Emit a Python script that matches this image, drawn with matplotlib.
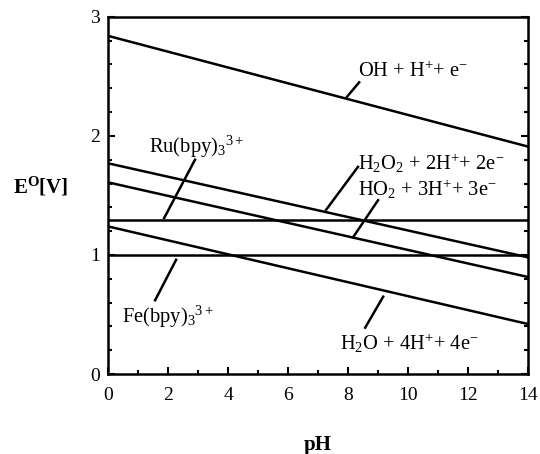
import matplotlib
matplotlib.use("Agg")
import matplotlib.pyplot as plt

plt.rcParams['font.family'] = ['Liberation Serif', 'DejaVu Serif']
plt.rcParams['mathtext.fontset'] = 'custom'
plt.rcParams['mathtext.rm'] = 'Liberation Serif'
plt.rcParams['mathtext.it'] = 'Liberation Serif:italic'
plt.rcParams['mathtext.bf'] = 'Liberation Serif:bold'

# Data: pH range and potentials (V) at pH 0 and pH 14
ph = [0, 14]
oh_couple = [2.84, 1.91]
h2o2_couple = [1.77, 0.98]
ho2_couple = [1.61, 0.815]
ru_bpy = [1.29, 1.29]
h2o_couple = [1.24, 0.42]
fe_bpy = [1.0, 1.0]

series = [oh_couple, h2o2_couple, ho2_couple, ru_bpy, h2o_couple, fe_bpy]

labels = [
    r"OH + H$^{+}$+ e$^{-}$",
    r"H$_2$O$_2$ + 2H$^{+}$+ 2e$^{-}$",
    r"HO$_2$ + 3H$^{+}$+ 3e$^{-}$",
    r"Ru(bpy)$_3$$^{3+}$",
    r"H$_2$O + 4H$^{+}$+ 4e$^{-}$",
    r"Fe(bpy)$_3$$^{3+}$",
]
xticks = [0, 2, 4, 6, 8, 10, 12, 14]
yticks = [0, 1, 2, 3]

fig = plt.figure(figsize=(5.4, 4.54), dpi=100)
ax = fig.add_axes([0.2, 0.176, 0.778, 0.787])

for s in series:
    ax.plot(ph, s, color='black', lw=1.8, solid_capstyle='butt')

# label text positions (text left, centre) and leader lines (start, end)
label_layout = [
    ((8.33, 2.54), (7.97, 2.33), (8.37, 2.45)),
    ((8.33, 1.77), (8.33, 1.74), (7.27, 1.38)),
    ((8.33, 1.55), (9.0, 1.46), (8.17, 1.15)),
    ((1.37, 1.91), (2.9, 1.80), (1.87, 1.31)),
    ((7.73, 0.26), (8.57, 0.39), (9.17, 0.65)),
    ((0.47, 0.48), (1.57, 0.62), (2.27, 0.96)),
]
for lab, (tpos, p0, p1) in zip(labels, label_layout):
    ax.text(tpos[0], tpos[1], lab, fontsize=14.8, ha='left', va='center')
    ax.plot([p0[0], p1[0]], [p0[1], p1[1]], color='black', lw=1.8)

ax.set_xlim(0, 14)
ax.set_ylim(0, 3)
ax.set_xticks(xticks)
ax.set_yticks(yticks)
ax.set_xticks(range(0, 15), minor=True)
ax.set_yticks([i * 0.2 for i in range(16)], minor=True)
ax.tick_params(which='both', direction='in', top=False, right=True, width=1.5)
ax.tick_params(which='major', length=5, labelsize=14)
ax.tick_params(axis='x', which='major', pad=9)
ax.tick_params(axis='y', which='major', pad=6)
ax.tick_params(which='minor', length=3)
for sp in ax.spines.values():
    sp.set_linewidth(1.8)

ax.text(-0.16, 0.524, r"E$^{\mathbf{O}}$[V]", transform=ax.transAxes,
        fontsize=15, fontweight='bold', ha='center', va='center')
ax.text(0.5, -0.199, "pH", transform=ax.transAxes,
        fontsize=15, fontweight='bold', ha='center', va='center')

fig.savefig("out.png", dpi=100)
